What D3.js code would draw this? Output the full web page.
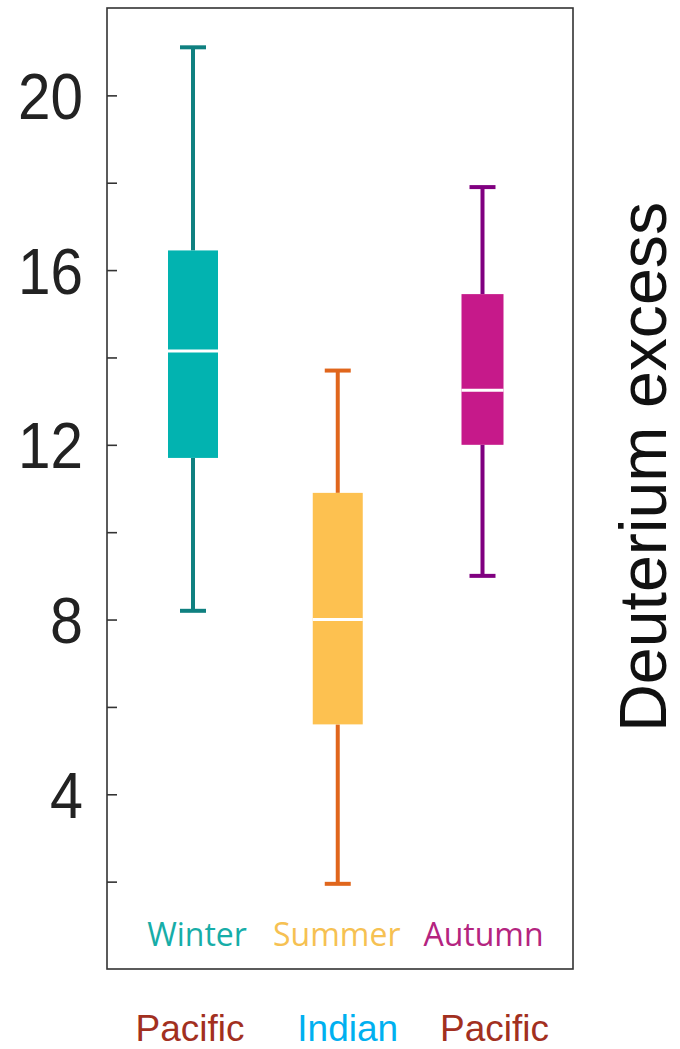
<!DOCTYPE html>
<html>
<head>
<meta charset="utf-8">
<script src="https://cdn.jsdelivr.net/npm/d3@7"></script>
<style>
  html, body { margin: 0; padding: 0; background: #fff; }
  svg { display: block; }
</style>
</head>
<body>
<svg id="chart" width="680" height="1049"></svg>
<script>
// ---- data ----
const seasons = ["Winter", "Summer", "Autumn"];
const oceans = ["Pacific", "Indian", "Pacific"];
const whiskerLow = [8.2, 1.95, 9.0];
const q1 = [11.7, 5.6, 12.0];
const median = [14.15, 8.0, 13.25];
const q3 = [16.45, 10.9, 15.45];
const whiskerHigh = [21.1, 13.7, 17.9];
const majorTicks = [4, 8, 12, 16, 20];
const minorTicks = [2, 6, 10, 14, 18];
const yTitle = "Deuterium excess";

// ---- styles ----
const boxFill = ["#02b3b0", "#fdc150", "#c6198a"];
const whiskerColor = ["#0f8080", "#e0661c", "#800080"];
const seasonColor = ["#17ada8", "#f6c152", "#b4247f"];
const oceanColor = ["#a2301f", "#00b0f0", "#a2301f"];
const boxWidth = [50, 50, 42];

const svg = d3.select("#chart");
const frameL = 107, frameR = 573, frameT = 8, frameB = 969;

const y = d3.scaleLinear().domain([0, 22]).range([frameB, frameT]);
const x = d3.scalePoint().domain(d3.range(seasons.length)).range([193, 482.5]);

// frame
svg.append("rect")
  .attr("x", frameL).attr("y", frameT)
  .attr("width", frameR - frameL).attr("height", frameB - frameT)
  .attr("fill", "none").attr("stroke", "#333").attr("stroke-width", 1.6);

// major axis
const gMaj = svg.append("g").attr("transform", `translate(${frameL},0)`)
  .call(d3.axisLeft(y).tickValues(majorTicks).tickSizeInner(-10).tickSizeOuter(0).tickPadding(24).tickFormat(d3.format("d")));
gMaj.select(".domain").remove();
gMaj.selectAll(".tick line").attr("stroke", "#333").attr("stroke-width", 1.6);
gMaj.selectAll(".tick text")
  .attr("fill", "#222")
  .style("font-family", "'Liberation Sans', Arial, sans-serif")
  .style("font-size", "64px")
  .attr("dy", "0.36em")
  .attr("textLength", d => String(d).length === 1 ? 33 : 65)
  .attr("lengthAdjust", "spacingAndGlyphs");

const gMin = svg.append("g").attr("transform", `translate(${frameL},0)`)
  .call(d3.axisLeft(y).tickValues(minorTicks).tickSizeInner(-10).tickSizeOuter(0).tickFormat(""));
gMin.select(".domain").remove();
gMin.selectAll(".tick line").attr("stroke", "#333").attr("stroke-width", 1.6);

// boxes
const idx = d3.range(seasons.length);
const g = svg.append("g");
const capW = 26, wStroke = 4;

// whisker stems
g.selectAll(".stemHi").data(idx).join("line")
  .attr("x1", i => x(i)).attr("x2", i => x(i))
  .attr("y1", i => y(q3[i])).attr("y2", i => y(whiskerHigh[i]))
  .attr("stroke", i => whiskerColor[i]).attr("stroke-width", wStroke);
g.selectAll(".stemLo").data(idx).join("line")
  .attr("x1", i => x(i)).attr("x2", i => x(i))
  .attr("y1", i => y(q1[i])).attr("y2", i => y(whiskerLow[i]))
  .attr("stroke", i => whiskerColor[i]).attr("stroke-width", wStroke);
// caps
g.selectAll(".capHi").data(idx).join("line")
  .attr("x1", i => x(i) - capW / 2).attr("x2", i => x(i) + capW / 2)
  .attr("y1", i => y(whiskerHigh[i])).attr("y2", i => y(whiskerHigh[i]))
  .attr("stroke", i => whiskerColor[i]).attr("stroke-width", 4);
g.selectAll(".capLo").data(idx).join("line")
  .attr("x1", i => x(i) - capW / 2).attr("x2", i => x(i) + capW / 2)
  .attr("y1", i => y(whiskerLow[i])).attr("y2", i => y(whiskerLow[i]))
  .attr("stroke", i => whiskerColor[i]).attr("stroke-width", 4);
// boxes
g.selectAll(".box").data(idx).join("rect")
  .attr("x", i => x(i) - boxWidth[i] / 2)
  .attr("width", i => boxWidth[i])
  .attr("y", i => y(q3[i]))
  .attr("height", i => y(q1[i]) - y(q3[i]))
  .attr("fill", i => boxFill[i]);
// medians
g.selectAll(".med").data(idx).join("line")
  .attr("x1", i => x(i) - boxWidth[i] / 2).attr("x2", i => x(i) + boxWidth[i] / 2)
  .attr("y1", i => y(median[i])).attr("y2", i => y(median[i]))
  .attr("stroke", "#fff").attr("stroke-width", 3);

// season labels
svg.selectAll(".season").data(idx).join("text")
  .attr("x", i => x(i) + [4, -1, 1][i])
  .attr("y", 946)
  .attr("text-anchor", "middle")
  .attr("fill", i => seasonColor[i])
  .style("font-family", "'Open Sans', 'Noto Sans', sans-serif")
  .style("font-size", "32px")
  .text(i => seasons[i]);

// ocean labels
svg.selectAll(".ocean").data(idx).join("text")
  .attr("x", i => x(i) + [-3, 10, 12][i])
  .attr("y", 1041)
  .attr("text-anchor", "middle")
  .attr("fill", i => oceanColor[i])
  .style("font-family", "'Liberation Sans', Arial, sans-serif")
  .style("font-size", "37px")
  .text(i => oceans[i]);

// y title (right side, rotated)
svg.append("text")
  .attr("transform", "translate(666,467) rotate(-90)")
  .attr("text-anchor", "middle")
  .attr("fill", "#111")
  .style("font-family", "'Liberation Sans', Arial, sans-serif")
  .style("font-size", "66px")
  .attr("textLength", 530)
  .attr("lengthAdjust", "spacingAndGlyphs")
  .text(yTitle);
</script>
</body>
</html>
